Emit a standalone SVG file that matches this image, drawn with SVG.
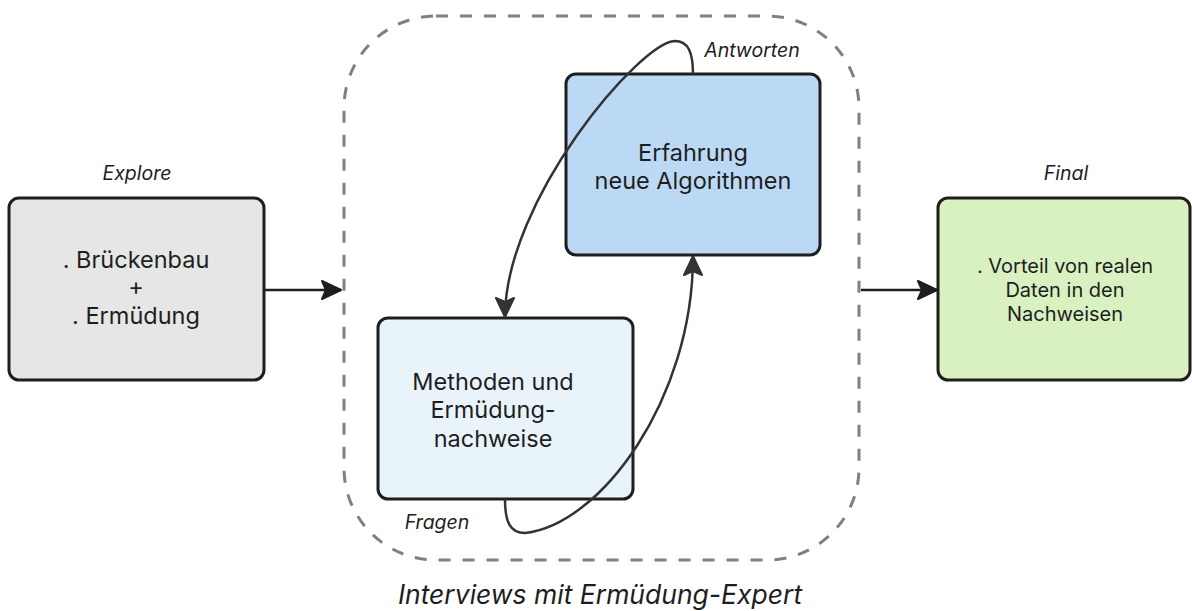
<svg xmlns="http://www.w3.org/2000/svg" width="1192" height="611" viewBox="0 0 1192 611">
  <style>
    .box { stroke: #1e1e1e; stroke-width: 3; }
    .txt { font-family: Inter, "Noto Sans", sans-serif; font-size: 23.5px; fill: #1e1e1e; text-anchor: middle; }
    .small { font-size: 20px; }
    .lbl { font-family: Inter, "Noto Sans", sans-serif; font-size: 19.5px; font-style: italic; fill: #1e1e1e; text-anchor: middle; }
    .edge { fill: none; stroke: #1e1e1e; stroke-width: 2.5; }
    .loop { fill: none; stroke: #333333; stroke-width: 2.5; }
  </style>
  <defs>
    <marker id="arrow" viewBox="0 0 12 12" refX="11" refY="6" markerWidth="24" markerHeight="24" markerUnits="userSpaceOnUse" orient="auto">
      <path d="M1.5,1.5 L11,6 L1.5,10.5 L3.5,6 Z" fill="#1e1e1e" stroke="#1e1e1e" stroke-width="1" stroke-linejoin="round"/>
    </marker>
    <marker id="arrow2" viewBox="0 0 12 12" refX="11" refY="6" markerWidth="24" markerHeight="24" markerUnits="userSpaceOnUse" orient="auto">
      <path d="M1.5,1.5 L11,6 L1.5,10.5 L3.5,6 Z" fill="#333333" stroke="#333333" stroke-width="1" stroke-linejoin="round"/>
    </marker>
  </defs>

  <!-- interview group frame -->
  <g id="interviews">
    <rect x="344" y="16" width="515" height="544" rx="92" fill="none" stroke="#808080" stroke-width="3" stroke-dasharray="12 12"/>
    <text x="600" y="604" font-family="Inter, 'Noto Sans', sans-serif" font-size="26.5" font-style="italic" fill="#1e1e1e" text-anchor="middle">Interviews mit Ermüdung-Expert</text>
  </g>

  <g id="explore">
    <text class="lbl" x="137" y="180">Explore</text>
    <rect class="box" x="9" y="198" width="255" height="182" rx="10" fill="#e6e6e6"/>
    <text class="txt" x="136" y="268">. Brückenbau</text>
    <text class="txt" x="136" y="295">+</text>
    <text class="txt" x="136" y="324">. Ermüdung</text>
  </g>

  <g id="erfahrung">
    <rect class="box" x="566" y="74" width="254" height="181" rx="10" fill="#bbd9f5"/>
    <text class="txt" x="693" y="161">Erfahrung</text>
    <text class="txt" x="693" y="189">neue Algorithmen</text>
  </g>

  <g id="methoden">
    <rect class="box" x="378" y="318" width="255" height="181" rx="10" fill="#e8f4fa"/>
    <text class="txt" x="493" y="390">Methoden und</text>
    <text class="txt" x="493" y="418">Ermüdung-</text>
    <text class="txt" x="493" y="447">nachweise</text>
  </g>

  <g id="final">
    <text class="lbl" x="1066" y="180">Final</text>
    <rect class="box" x="938" y="198" width="252" height="182" rx="10" fill="#d9f0c1"/>
    <text class="txt small" x="1065" y="273">. Vorteil von realen</text>
    <text class="txt small" x="1065" y="297">Daten in den</text>
    <text class="txt small" x="1065" y="321">Nachweisen</text>
  </g>

  <g id="connectors">
    <path class="edge" d="M265,290 L341,290" marker-end="url(#arrow)"/>
    <path class="edge" d="M861,290 L937,290" marker-end="url(#arrow)"/>
    <path class="loop" d="M693,74 C693,52 688,41 675,41 C640,42 505,200 505,317" marker-end="url(#arrow2)"/>
    <path class="loop" d="M505,499 C505,522 510,533 525,533 C600,525 693,400 693,256" marker-end="url(#arrow2)"/>
    <text class="lbl" x="752" y="57">Antworten</text>
    <text class="lbl" x="437" y="529">Fragen</text>
  </g>
</svg>
